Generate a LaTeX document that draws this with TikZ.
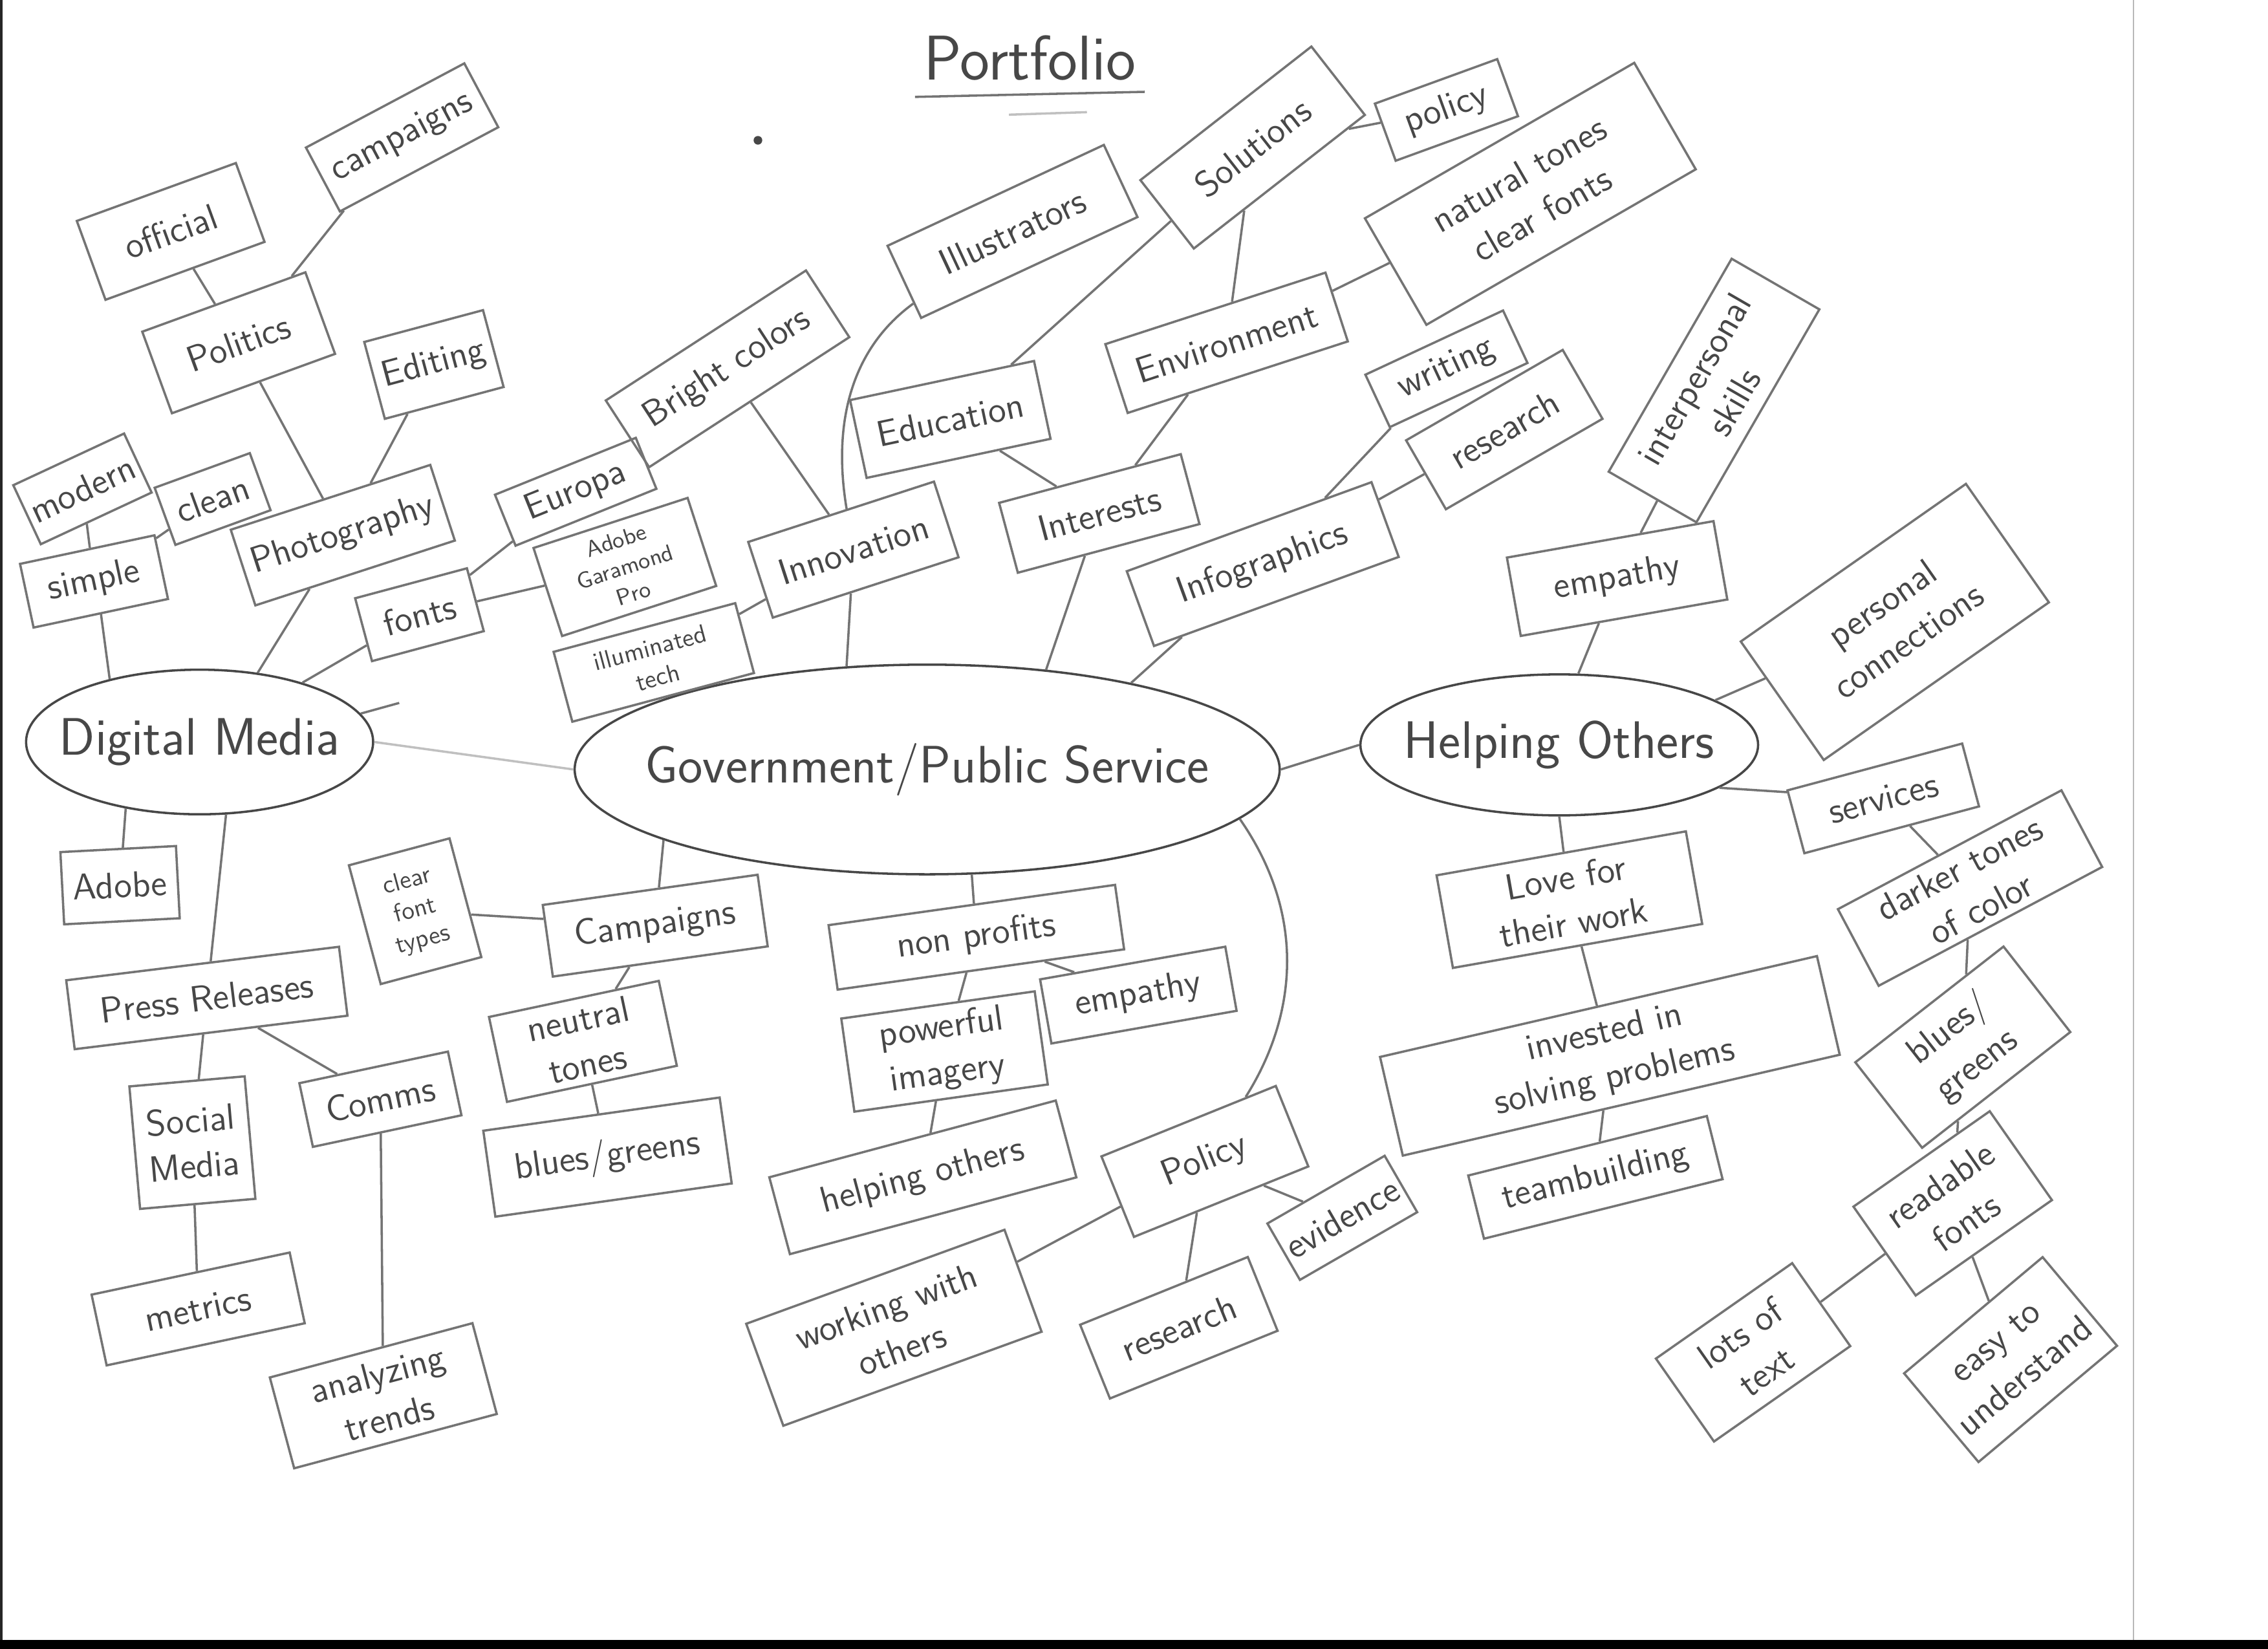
\documentclass[tikz,border=0pt]{standalone}
\definecolor{pencil}{HTML}{747474}
\definecolor{graphite}{HTML}{474747}
\usepackage{tikz}
\usetikzlibrary{shapes.geometric, calc}

\begin{document}
\begin{tikzpicture}[x=0.02cm, y=-0.02cm,
		box/.style={draw=pencil, line width=0.9pt, text=graphite, font=\sffamily\Large, align=center, inner sep=2pt},
		bubble/.style={ellipse, draw=graphite, line width=0.9pt, inner sep=0pt},
		bubbletext/.style={font=\sffamily\huge, text=graphite},
		link/.style={draw=pencil, line width=0.9pt},
		faint/.style={draw=pencil!45},
		sz/.style 2 args={minimum width=#1*0.02cm, minimum height=#2*0.02cm}]
	
	\useasboundingbox (0,0) rectangle (1568,1140);
	
	% scan edges
	\fill[black!85] (0,0) rectangle (2,1140);
	\fill[black] (0,1134) rectangle (1568,1140);
	\draw[pencil!50, line width=0.6pt] (1475,0) -- (1475,1134);
	
	\node[font=\sffamily\Huge, text=graphite] (portfolio) at (712,40) {Portfolio};
	\draw[link] ([yshift=-3pt]portfolio.south west) -- ([yshift=-1pt]portfolio.south east);
	\draw[link, faint] ([xshift=1.3cm, yshift=-10pt]portfolio.south west) -- ([xshift=-0.8cm, yshift=-9pt]portfolio.south east);
	\fill[graphite] (524,97) circle (3);
	
	\begin{scope}
		\node[bubble, minimum width=4.8cm, minimum height=2.0cm, label={[bubbletext]center:Digital Media}] (digital) at (138,513) {};
		
		\node[box, sz={117}{58}, rotate=20] (official) at (118,160) {official};
		\node[box, sz={124}{50}, rotate=28] (campaigns) at (278,95) {campaigns};
		\node[box, sz={120}{60}, rotate=20] (politics) at (165,237) {Politics};
		\node[box, sz={85}{55}, rotate=15] (editing) at (300,252) {Editing};
		\node[box, sz={145}{55}, rotate=18] (photo) at (237,370) {Photography};
		\node[box, sz={80}{45}, rotate=25] (modern) at (57,338) {modern};
		\node[box, sz={70}{42}, rotate=20] (clean) at (147,345) {clean};
		\node[box, sz={95}{45}, rotate=12] (simple) at (65,402) {simple};
		\node[box, sz={80}{45}, rotate=15] (fonts) at (290,425) {fonts};
		\node[box, sz={105}{38}, rotate=22] (europa) at (398,340) {Europa};
		\node[box, sz={112}{64}, rotate=18, font=\sffamily\small] (garamond) at (432,392) {Adobe\\Garamond\\Pro};
		\coordinate (dmstub) at (276,486);
		
		\node[box, sz={80}{50}, rotate=3] (adobe) at (83,612) {Adobe};
		\node[box, sz={190}{48}, rotate=7] (press) at (143,690) {Press Releases};
		\node[box, sz={80}{85}, rotate=5] (social) at (133,790) {Social\\Media};
		\node[box, sz={105}{45}, rotate=12] (comms) at (263,760) {Comms};
		\node[box, sz={140}{50}, rotate=12] (metrics) at (137,905) {metrics};
		\node[box, sz={145}{65}, rotate=15] (trends) at (265,965) {analyzing\\trends};
		
		\draw[link] (official) -- (politics);
		\draw[link] (campaigns) -- (politics);
		\draw[link] (politics) -- (photo);
		\draw[link] (editing) -- (photo);
		\draw[link] (photo) -- (digital.50);
		\draw[link] (modern) -- (simple);
		\draw[link] (clean) -- (simple);
		\draw[link] (simple.south) -- (digital.145);
		\draw[link] (fonts) -- (digital.30);
		\draw[link] (fonts) -- (europa);
		\draw[link] (fonts) -- (garamond);
		\draw[link] (digital.10) -- (dmstub);
		\draw[link] (adobe) -- (digital.-138);
		\draw[link] (press) -- (digital.-70);
		\draw[link] (press) -- (social);
		\draw[link] (press) -- (comms);
		\draw[link] (social) -- (metrics);
		\draw[link] (comms) -- (trends);
	\end{scope}
	
	\begin{scope}
		\node[bubble, minimum width=9.75cm, minimum height=2.9cm, label={[bubbletext]center:Government/Public Service}] (gov) at (641,532) {};
		
		\node[box, sz={130}{50}, rotate=15, font=\sffamily\normalsize] (tech) at (452,458) {illuminated\\tech};
		\node[box, sz={135}{55}, rotate=18] (innovation) at (590,380) {Innovation};
		\node[box, sz={165}{55}, rotate=33] (bright) at (503,255) {Bright colors};
		\node[box, sz={165}{55}, rotate=25] (illustrators) at (700,160) {Illustrators};
		\node[box, sz={130}{55}, rotate=12] (education) at (657,290) {Education};
		\node[box, sz={130}{50}, rotate=15] (interests) at (760,355) {Interests};
		\node[box, sz={150}{60}, rotate=38] (solutions) at (866,102) {Solutions};
		\node[box, sz={90}{42}, rotate=20] (policytop) at (1000,76) {policy};
		\node[box, sz={215}{85}, rotate=30] (natural) at (1058,134) {natural tones\\clear fonts};
		\node[box, sz={160}{50}, rotate=18] (environment) at (848,237) {Environment};
		\node[box, sz={105}{40}, rotate=25] (writing) at (1000,255) {writing};
		\node[box, sz={125}{55}, rotate=30] (researchtop) at (1040,297) {research};
		\node[box, sz={180}{55}, rotate=20] (infographics) at (873,390) {Infographics};
		
		\node[box, sz={150}{50}, rotate=8] (campaignsb) at (453,640) {Campaigns};
		\node[box, sz={72}{85}, rotate=15, font=\sffamily\normalsize] (cleartypes) at (287,630) {clear\\font\\types};
		\node[box, sz={120}{60}, rotate=12] (neutral) at (403,720) {neutral\\tones};
		\node[box, sz={165}{60}, rotate=8] (bluesmid) at (420,800) {blues/greens};
		\node[box, sz={200}{45}, rotate=8] (nonprofits) at (675,648) {non profits};
		\node[box, sz={130}{45}, rotate=10] (empathymid) at (787,688) {empathy};
		\node[box, sz={135}{65}, rotate=8] (imagery) at (653,727) {powerful\\imagery};
		\node[box, sz={205}{55}, rotate=15] (helpingmid) at (638,814) {helping others};
		\node[box, sz={130}{60}, rotate=22] (policy) at (833,803) {Policy};
		\node[box, sz={90}{45}, rotate=30] (evidence) at (928,842) {evidence};
		\node[box, sz={190}{75}, rotate=20] (working) at (618,918) {working with\\others};
		\node[box, sz={125}{55}, rotate=22] (researchbot) at (815,918) {research};
		
		\draw[link, faint] (digital.east) -- (gov.west);
		\draw[link] (tech) -- (innovation);
		\draw[link] (innovation) -- (gov.128);
		\draw[link] (bright) -- (innovation);
		\draw[link] (illustrators) .. controls (590,240) and (575,290) .. (innovation);
		\draw[link] (solutions) -- (education);
		\draw[link] (solutions) -- (environment);
		\draw[link] (policytop) -- (solutions);
		\draw[link] (environment) -- (natural);
		\draw[link] (education) -- (interests);
		\draw[link] (environment) -- (interests);
		\draw[link] (interests) -- (gov.40);
		\draw[link] (writing) -- (infographics);
		\draw[link] (researchtop) -- (infographics);
		\draw[link] (infographics) -- (gov.23);
		
		\draw[link] (campaignsb) -- (gov.-165);
		\draw[link] (campaignsb) -- (cleartypes);
		\draw[link] (campaignsb) -- (neutral);
		\draw[link] (neutral) -- (bluesmid);
		\draw[link] (nonprofits) -- (gov.-67);
		\draw[link] (nonprofits) -- (empathymid);
		\draw[link] (nonprofits) -- (imagery);
		\draw[link] (imagery) -- (helpingmid);
		\draw[link] (gov.-9) .. controls (905,635) and (895,705) .. (policy);
		\draw[link] (policy) -- (working);
		\draw[link] (policy) -- (researchbot);
		\draw[link] (policy) -- (evidence);
	\end{scope}
	
	\begin{scope}
		\node[bubble, minimum width=5.5cm, minimum height=1.95cm, label={[bubbletext]center:Helping Others}] (helping) at (1078,515) {};
		
		\node[box, sz={170}{70}, rotate=60] (interpersonal) at (1185,270) {interpersonal\\skills};
		\node[box, sz={145}{55}, rotate=10] (empathyright) at (1118,400) {empathy};
		\node[box, sz={190}{100}, rotate=35] (personal) at (1310,430) {personal\\connections};
		\node[box, sz={125}{45}, rotate=15] (services) at (1302,552) {services};
		\node[box, sz={175}{60}, rotate=28] (darker) at (1362,614) {darker tones\\of color};
		\node[box, sz={130}{75}, rotate=38] (bluesright) at (1357,724) {blues/\\greens};
		\node[box, sz={115}{75}, rotate=35] (readable) at (1350,832) {readable\\fonts};
		\node[box, sz={115}{70}, rotate=35] (lots) at (1212,935) {lots of\\text};
		\node[box, sz={125}{80}, rotate=40] (easy) at (1390,940) {easy to\\understand};
		\node[box, sz={175}{65}, rotate=10] (love) at (1085,622) {Love for\\their work};
		\node[box, sz={310}{70}, rotate=13] (invested) at (1113,730) {invested in\\solving problems};
		\node[box, sz={170}{45}, rotate=14] (team) at (1103,814) {teambuilding};
		
		\draw[link] (gov.east) -- (helping.west);
		\draw[link] (interpersonal) -- (empathyright);
		\draw[link] (empathyright) -- (helping.75);
		\draw[link] (personal) -- (helping.16);
		\draw[link] (helping.-15) -- (services);
		\draw[link] (services) -- (darker);
		\draw[link] (darker) -- (bluesright);
		\draw[link] (bluesright) -- (readable);
		\draw[link] (readable) -- (lots);
		\draw[link] (readable) -- (easy);
		\draw[link] (helping.south) -- (love);
		\draw[link] (love) -- (invested);
		\draw[link] (invested) -- (team);
	\end{scope}
	
\end{tikzpicture}
\end{document}
